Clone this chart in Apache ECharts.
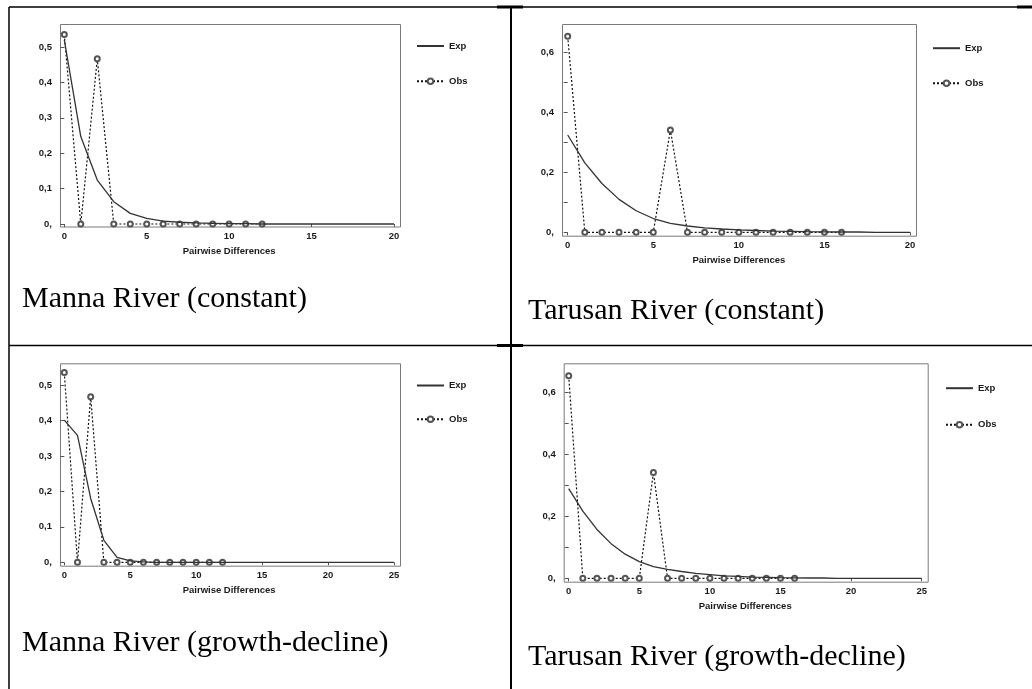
<!DOCTYPE html>
<html>
<head>
<meta charset="utf-8">
<script src="https://cdn.jsdelivr.net/npm/echarts@6/dist/echarts.min.js"></script>
<style>
html, body { margin: 0; padding: 0; background: #fff; }
#main { width: 1032px; height: 689px; }
</style>
</head>
<body>
<div id="main"></div>
<script>
// pairwise differences (x values)
var diffs = [0, 1, 2, 3, 4, 5, 6, 7, 8, 9, 10, 11, 12, 13, 14, 15, 16, 17, 18, 19, 20, 21, 22, 23, 24, 25];

// observed mismatch distributions
var mannaObs = [0.535, 0, 0.467, 0, 0, 0, 0, 0, 0, 0, 0, 0, 0];
var tarusanObs = [0.655, 0, 0, 0, 0, 0, 0.342, 0, 0, 0, 0, 0, 0, 0, 0, 0, 0];

// expected distributions
var mannaConstExp = [0.52, 0.247, 0.124, 0.063, 0.03, 0.016, 0.008, 0.005, 0.003, 0.002, 0.001,
    0.001, 0, 0, 0, 0, 0, 0, 0, 0, 0];
var tarusanConstExp = [0.325, 0.232, 0.163, 0.11, 0.072, 0.046, 0.03, 0.021, 0.015, 0.011, 0.008,
    0.006, 0.004, 0.003, 0.002, 0.0015, 0.001, 0.001, 0, 0, 0];
var mannaGrowthExp = [0.401, 0.358, 0.18, 0.062, 0.014, 0.004, 0.001, 0, 0, 0, 0, 0, 0,
    0, 0, 0, 0, 0, 0, 0, 0, 0, 0, 0, 0, 0];
var tarusanGrowthExp = [0.29, 0.217, 0.158, 0.112, 0.078, 0.054, 0.038, 0.029, 0.022, 0.016, 0.012,
    0.008, 0.006, 0.004, 0.003, 0.002, 0.0015, 0.001, 0.001, 0, 0, 0, 0, 0, 0, 0];

var captions = ['Manna River (constant)', 'Tarusan River (constant)',
    'Manna River (growth-decline)', 'Tarusan River (growth-decline)'];
var xName = 'Pairwise Differences';
var legendNames = ['Exp', 'Obs'];

// layout of the four panels (pixels)
var panels = [
    { grid: [64.3, 47, 329.7, 177], frame: [60, 24, 340, 202.5], xMax: 20, yMax: 0.5, labelEvery: 1,
      legend: [416, 45.5, 79.7], caption: [22, 299], exp: mannaConstExp, obs: mannaObs },
    { grid: [567.7, 52.7, 342.3, 179.6], frame: [562, 24, 354, 211.7], xMax: 20, yMax: 0.6, labelEvery: 2,
      legend: [932, 47.7, 81.7], caption: [528, 311.5], exp: tarusanConstExp, obs: tarusanObs },
    { grid: [64.3, 385, 329.7, 177.3], frame: [60, 363.3, 340, 202.4], xMax: 25, yMax: 0.5, labelEvery: 1,
      legend: [416, 385, 417.7], caption: [22, 643], exp: mannaGrowthExp, obs: mannaObs },
    { grid: [568.7, 392.7, 353, 185.6], frame: [563.7, 363.3, 364, 218.4], xMax: 25, yMax: 0.6, labelEvery: 2,
      legend: [945, 387.7, 423.3], caption: [528, 657.5], exp: tarusanGrowthExp, obs: tarusanObs }
];

var tickFont = { fontSize: 9.5, fontWeight: 'bold', color: '#1a1a1a', fontFamily: 'Liberation Sans, Arial, sans-serif' };

var myChart = echarts.init(document.getElementById('main'));

var grids = [], xAxes = [], yAxes = [], series = [], legends = [], graphics = [];

panels.forEach(function (p, i) {
    var f = p.frame;
    grids.push({ left: p.grid[0], top: p.grid[1], width: p.grid[2], height: p.grid[3] });
    xAxes.push({
        type: 'value', gridIndex: i, min: 0, max: p.xMax, interval: 5,
        offset: (f[1] + f[3]) - (p.grid[1] + p.grid[3]),
        name: xName, nameLocation: 'middle', nameGap: 20,
        nameTextStyle: tickFont,
        axisLine: { show: false },
        axisTick: { show: true, length: 3, lineStyle: { color: '#555' } },
        axisLabel: Object.assign({ margin: 5 }, tickFont),
        splitLine: { show: false }
    });
    yAxes.push({
        type: 'value', gridIndex: i, min: 0, max: p.yMax, interval: 0.1,
        offset: p.grid[0] - f[0],
        axisLine: { show: false },
        axisTick: { show: true, length: 4, lineStyle: { color: '#555' } },
        axisLabel: Object.assign({
            margin: 8,
            formatter: function (v) {
                var k = Math.round(v * 10);
                if (k % p.labelEvery) return '';
                return k === 0 ? '0,' : '0,' + k;
            }
        }, tickFont),
        splitLine: { show: false }
    });
    series.push({
        name: 'Exp', type: 'line', xAxisIndex: i, yAxisIndex: i, clip: false,
        symbol: 'none', z: 3,
        lineStyle: { color: '#333', width: 1.3 },
        itemStyle: { color: '#333' },
        data: p.exp.map(function (v, j) { return [diffs[j], v]; })
    });
    series.push({
        name: 'Obs', type: 'line', xAxisIndex: i, yAxisIndex: i, clip: false,
        symbol: 'emptyCircle', symbolSize: 5, z: 2,
        lineStyle: { color: '#111', width: 1.2, type: [2, 2] },
        itemStyle: { color: '#555', borderWidth: 0.9 },
        data: p.obs.map(function (v, j) { return [diffs[j], v]; })
    });
    legends.push({
        orient: 'vertical', left: p.legend[0], top: p.legend[1] - 4.5,
        itemWidth: 27, itemHeight: 7, itemGap: p.legend[2] - p.legend[1] - 9,
        padding: 0, selectedMode: false,
        textStyle: tickFont,
        data: [{ name: legendNames[0], itemStyle: { opacity: 0 } },
               { name: legendNames[1], itemStyle: { borderWidth: 1 } }]
    });
    graphics.push({
        type: 'rect', silent: true,
        shape: { x: f[0] + 0.5, y: f[1] + 0.5, width: f[2], height: f[3] },
        style: { fill: 'none', stroke: '#7a7a7a', lineWidth: 1 }
    });
    graphics.push({
        type: 'text', silent: true, x: p.caption[0], y: p.caption[1],
        style: {
            text: captions[i], fill: '#000',
            font: '30px "Liberation Serif", "Times New Roman", serif',
            textVerticalAlign: 'middle', verticalAlign: 'middle'
        }
    });
});

// table rules
[[9, 7, 1032, 7, 1.5], [9, 7, 9, 689, 1.5], [511, 7, 511, 689, 2], [9, 345.5, 1032, 345.5, 1.5],
 [497, 7, 523, 7, 3], [1017, 7, 1032, 7, 3], [497, 345.5, 523, 345.5, 3]].forEach(function (l) {
    graphics.push({
        type: 'line', silent: true,
        shape: { x1: l[0], y1: l[1], x2: l[2], y2: l[3] },
        style: { stroke: '#000', lineWidth: l[4] }
    });
});

option = {
    animation: false,
    backgroundColor: '#fff',
    grid: grids,
    xAxis: xAxes,
    yAxis: yAxes,
    legend: legends,
    series: series,
    graphic: graphics
};

myChart.setOption(option);
</script>
</body>
</html>
